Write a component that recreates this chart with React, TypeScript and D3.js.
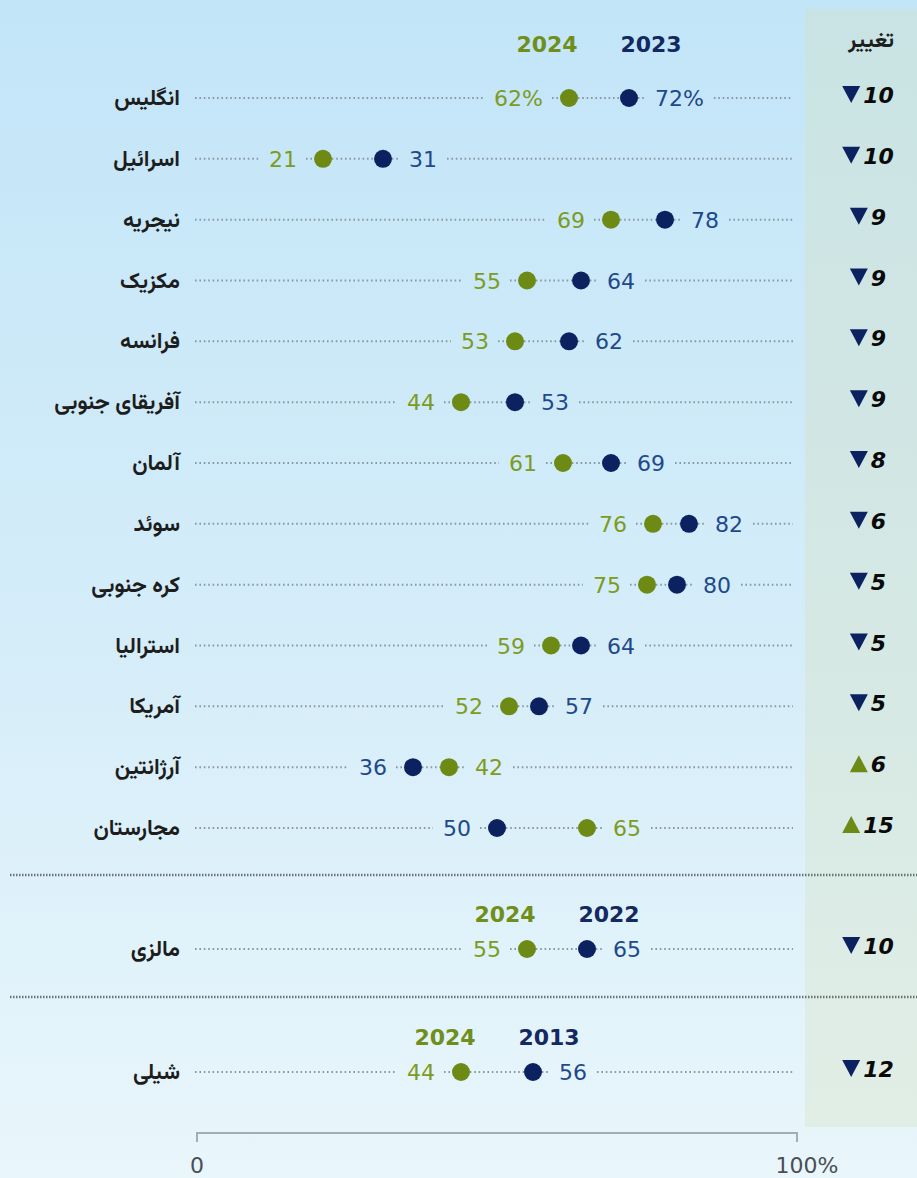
import React from 'react';
import * as d3 from 'd3';

const countries = ['انگلیس', 'اسرائیل', 'نیجریه', 'مکزیک', 'فرانسه', 'آفریقای جنوبی', 'آلمان', 'سوئد', 'کره جنوبی', 'استرالیا', 'آمریکا', 'آرژانتین', 'مجارستان'];
const values2024 = [62, 21, 69, 55, 53, 44, 61, 76, 75, 59, 52, 42, 65];
const values2023 = [72, 31, 78, 64, 62, 53, 69, 82, 80, 64, 57, 36, 50];
const changes = [-10, -10, -9, -9, -9, -9, -8, -6, -5, -5, -5, 6, 15];

const extraCountries = ['مالزی', 'شیلی'];
const extraValues2024 = [55, 44];
const extraValuesPrev = [65, 56];
const extraPrevYears = ['2022', '2013'];
const extraChanges = [-10, -12];

const axisTicks = [0, 100];
const changeHeader = 'تغییر';

const W = 917;
const H = 1178;
const NUM_FONT = '"DejaVu Sans", "Liberation Sans", sans-serif';
const FA_FONT = '"Vazirmatn", "Noto Naskh Arabic", "Noto Sans Arabic", "DejaVu Sans", sans-serif';
const GREEN_DOT = '#6c8a14';
const GREEN_TXT = '#7d9b22';
const NAVY_DOT = '#0c2260';
const NAVY_TXT = '#21498a';

let ctx: CanvasRenderingContext2D | null = null;
function measure(text: string, font: string): number {
  if (!ctx) ctx = document.createElement('canvas').getContext('2d');
  if (!ctx) return text.length * 13;
  ctx.font = font;
  return ctx.measureText(text).width;
}

const x = d3.scaleLinear().domain([0, 100]).range([197, 797]);
const y = d3.scalePoint<string>().domain(countries).range([98, 828]);
const yExtra = d3.scalePoint<string>().domain(extraCountries).range([949, 1072]);

type RowProps = { cy: number; name: string; a: number; b: number; change: number; pct: boolean };

function Row({ cy, name, a, b, change, pct }: RowProps) {
  const loIs2024 = a <= b;
  const lo = Math.min(a, b);
  const hi = Math.max(a, b);
  const xLo = x(lo);
  const xHi = x(hi);
  const lblFont = `22px ${NUM_FONT}`;
  const loText = pct ? `${lo}%` : `${lo}`;
  const hiText = pct ? `${hi}%` : `${hi}`;
  const wLo = measure(loText, lblFont);
  const wHi = measure(hiText, lblFont);
  const off = 26;
  const segs: [number, number][] = [
    [x(0) - 2, xLo - off - wLo - 10],
    [xLo - off + 9, xLo],
    [xLo, xHi],
    [xHi, xHi + off - 9],
    [xHi + off + wHi + 10, x(100) - 4],
  ];
  const loColorDot = loIs2024 ? GREEN_DOT : NAVY_DOT;
  const hiColorDot = loIs2024 ? NAVY_DOT : GREEN_DOT;
  const loColorTxt = loIs2024 ? GREEN_TXT : NAVY_TXT;
  const hiColorTxt = loIs2024 ? NAVY_TXT : GREEN_TXT;

  const chFont = `italic bold 22px ${NUM_FONT}`;
  const chText = `${Math.abs(change)}`;
  const wCh = measure(chText, chFont);
  const triW = 18;
  const gap = 3;
  const groupW = triW + gap + wCh;
  const gx = 868 - groupW / 2;
  const down = change < 0;
  const tri = down
    ? `M${gx},${cy - 12} L${gx + triW},${cy - 12} L${gx + triW / 2},${cy + 5} Z`
    : `M${gx},${cy + 5} L${gx + triW},${cy + 5} L${gx + triW / 2},${cy - 12} Z`;

  return (
    <g>
      <text x={180} y={cy + 7} textAnchor="end" fontFamily={FA_FONT} fontWeight="bold" fontSize={22} fill="#1d1d1d">{name}</text>
      {segs.filter(s => s[1] > s[0]).map((s, i) => (
        <line key={i} x1={s[0]} x2={s[1]} y1={cy} y2={cy} stroke="#8a98a2" strokeWidth={2} strokeDasharray="1.6 2.8" />
      ))}
      <circle cx={xLo} cy={cy} r={9} fill={loColorDot} />
      <circle cx={xHi} cy={cy} r={9} fill={hiColorDot} />
      <text x={xLo - off} y={cy + 8} textAnchor="end" fontFamily={NUM_FONT} fontSize={22} fill={loColorTxt}>{loText}</text>
      <text x={xHi + off} y={cy + 8} textAnchor="start" fontFamily={NUM_FONT} fontSize={22} fill={hiColorTxt}>{hiText}</text>
      <path d={tri} fill={down ? NAVY_DOT : GREEN_DOT} />
      <text x={gx + triW + gap} y={cy + 5} fontFamily={NUM_FONT} fontStyle="italic" fontWeight="bold" fontSize={22} fill="#0a0a0a">{chText}</text>
    </g>
  );
}

function Header({ cy, a, b, prevYear }: { cy: number; a: number; b: number; prevYear: string }) {
  const mid = (x(a) + x(b)) / 2;
  return (
    <g fontFamily={NUM_FONT} fontWeight="bold" fontSize={22}>
      <text x={mid - 52} y={cy} textAnchor="middle" fill="#6f8e1c">2024</text>
      <text x={mid + 52} y={cy} textAnchor="middle" fill="#13295f">{prevYear}</text>
    </g>
  );
}

export default function App() {
  return (
    <div style={{ position: 'absolute', left: 0, top: 0 }}>
      <svg width={W} height={H} style={{ display: 'block' }}>
        <defs>
          <linearGradient id="bg" x1="0" y1="0" x2="0" y2="1">
            <stop offset="0" stopColor="#c2e5f8" />
            <stop offset="0.55" stopColor="#d5edf9" />
            <stop offset="1" stopColor="#e9f6fb" />
          </linearGradient>
          <linearGradient id="panel" x1="0" y1="0" x2="0" y2="1">
            <stop offset="0" stopColor="#c9e3e4" />
            <stop offset="0.55" stopColor="#d5e8e4" />
            <stop offset="1" stopColor="#e1eee6" />
          </linearGradient>
        </defs>
        <rect x={0} y={0} width={W} height={H} fill="url(#bg)" />
        <rect x={805} y={9} width={W - 805} height={1118} fill="url(#panel)" />

        <text x={894} y={47} textAnchor="end" fontFamily={FA_FONT} fontWeight="bold" fontSize={22} fill="#1d1d1d">{changeHeader}</text>

        <Header cy={52} a={values2024[0]} b={values2023[0]} prevYear="2023" />
        {countries.map((c, i) => (
          <Row key={c} cy={y(c) as number} name={c} a={values2024[i]} b={values2023[i]} change={changes[i]} pct={i === 0} />
        ))}

        {[875, 997].map(yy => (
          <line key={yy} x1={10} x2={W} y1={yy} y2={yy} stroke="#6d7479" strokeWidth={2.5} strokeDasharray="1.5 1.5" />
        ))}

        {extraCountries.map((c, i) => {
          const cy = yExtra(c) as number;
          return (
            <g key={c}>
              <Header cy={cy - 27} a={extraValues2024[i]} b={extraValuesPrev[i]} prevYear={extraPrevYears[i]} />
              <Row cy={cy} name={c} a={extraValues2024[i]} b={extraValuesPrev[i]} change={extraChanges[i]} pct={false} />
            </g>
          );
        })}

        <path d={`M${x(0)},1142 V1133 H${x(100)} V1142`} fill="none" stroke="#a3adb2" strokeWidth={2} />
        {axisTicks.map(t => (
          <text key={t} x={x(t) + (t === 100 ? 10 : 0)} y={1173} textAnchor="middle" fontFamily={NUM_FONT} fontSize={22} fill="#4a4f55">{t === 100 ? `${t}%` : `${t}`}</text>
        ))}
      </svg>
    </div>
  );
}
